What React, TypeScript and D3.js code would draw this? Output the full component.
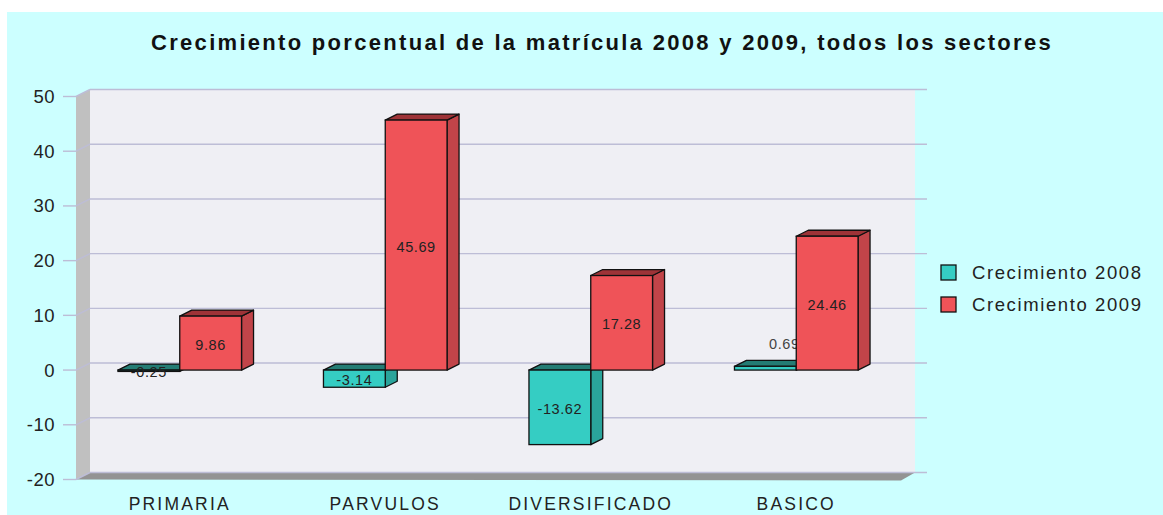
import React from "react";
import * as d3 from "d3";

const categories = ["PRIMARIA", "PARVULOS", "DIVERSIFICADO", "BASICO"];
const seriesNames = ["Crecimiento 2008", "Crecimiento 2009"];
const values2008 = [-0.25, -3.14, -13.62, 0.69];
const values2009 = [9.86, 45.69, 17.28, 24.46];
const yTicks = [-20, -10, 0, 10, 20, 30, 40, 50];
const title = "Crecimiento porcentual de la matrícula 2008 y 2009, todos los sectores";

const W = 1163;
const H = 515;
const FONT = "'Liberation Sans', Arial, sans-serif";

const palette = [
  { front: "#35cdc3", side: "#2aa49b", top: "#237c74" },
  { front: "#ef5358", side: "#c24449", top: "#9e3337" },
];

export default function App() {
  const y = d3.scaleLinear().domain([-20, 50]).range([479.5, 96.5]);
  const x = d3.scaleBand<string>().domain(categories).range([77, 899]);
  const xs = d3
    .scaleBand<string>()
    .domain(seriesNames)
    .range([0, x.bandwidth()])
    .paddingInner(0)
    .paddingOuter(0.663);

  const frontL = 76;
  const frontR = 901;
  const wdx = 14;
  const wdy = -7;
  const bdx = 12;
  const bdy = -6;
  const yTop = y(50);
  const yBot = y(-20);

  const allSeries = [values2008, values2009];

  const pts = (p: number[][]) => p.map((d) => d.join(",")).join(" ");

  const seriesGroups = allSeries.map((vals, si) => {
    const col = palette[si];
    const bars = categories.map((c, ci) => {
      const v = vals[ci];
      const x0 = (x(c) as number) + (xs(seriesNames[si]) as number);
      const w = xs.bandwidth();
      const t = y(Math.max(0, v));
      const b = y(Math.min(0, v));
      return (
        <g key={"b" + ci}>
          <polygon
            points={pts([[x0 + w, t], [x0 + w + bdx, t + bdy], [x0 + w + bdx, b + bdy], [x0 + w, b]])}
            fill={col.side}
            stroke="#111"
            strokeWidth={1.3}
            strokeLinejoin="round"
          />
          <polygon
            points={pts([[x0, t], [x0 + bdx, t + bdy], [x0 + w + bdx, t + bdy], [x0 + w, t]])}
            fill={col.top}
            stroke="#111"
            strokeWidth={1.3}
            strokeLinejoin="round"
          />
          <rect x={x0} y={t} width={w} height={Math.max(0.8, b - t)} fill={col.front} stroke="#111" strokeWidth={1.3} />
        </g>
      );
    });
    const labels = categories.map((c, ci) => {
      const v = vals[ci];
      const x0 = (x(c) as number) + (xs(seriesNames[si]) as number);
      const w = xs.bandwidth();
      const t = y(Math.max(0, v));
      const b = y(Math.min(0, v));
      const small = b - t < 12 && v > 0;
      const lx = small ? x0 + w / 2 + 19 : x0 + w / 2;
      const ly = small ? t - 22 : (t + b) / 2 + 1.5;
      return (
        <text
          key={"l" + ci}
          x={lx}
          y={ly}
          textAnchor="middle"
          dominantBaseline="central"
          fontFamily={FONT}
          fontSize={14.5}
          letterSpacing={0.6}
          fill={small ? "#444" : "#222"}
        >
          {v.toFixed(2)}
        </text>
      );
    });
    return (
      <g key={"s" + si}>
        {bars}
        {labels}
      </g>
    );
  });

  return (
    <svg width={W} height={H} style={{ position: "absolute", left: 0, top: 0 }}>
      <rect x={7} y={12} width={W - 7} height={H - 12} fill="#ccffff" />

      {/* left wall */}
      <polygon
        points={pts([[frontL, yTop], [frontL + wdx, yTop + wdy], [frontL + wdx, yBot + wdy], [frontL, yBot]])}
        fill="#c0c0c0"
      />
      {/* back wall */}
      <rect x={frontL + wdx} y={yTop + wdy} width={frontR - frontL} height={yBot - yTop} fill="#efeff4" />
      {/* floor */}
      <polygon
        points={pts([[frontL, yBot], [frontL + wdx, yBot + wdy], [frontR + wdx, yBot + wdy], [frontR, yBot + 1]])}
        fill="#939393"
      />

      {/* grid lines and ticks */}
      {yTicks.map((t) => {
        const yy = y(t);
        return (
          <g key={"g" + t} stroke="#bdbdd6" strokeWidth={1.4} fill="none">
            <line x1={63} x2={frontL} y1={yy} y2={yy} />
            <line x1={frontL} x2={frontL + wdx} y1={yy} y2={yy + wdy} />
            <line x1={frontL + wdx} x2={frontR + wdx + 12} y1={yy + wdy} y2={yy + wdy} />
          </g>
        );
      })}
      {yTicks.map((t) => (
        <text
          key={"t" + t}
          x={55}
          y={y(t)}
          textAnchor="end"
          dominantBaseline="central"
          fontFamily={FONT}
          fontSize={18.5}
          letterSpacing={0.5}
          fill="#222"
        >
          {t}
        </text>
      ))}

      {seriesGroups}

      {categories.map((c) => (
        <text
          key={"c" + c}
          x={(x(c) as number) + x.bandwidth() / 2}
          y={510}
          textAnchor="middle"
          fontFamily={FONT}
          fontSize={17.5}
          letterSpacing={2.2}
          fill="#222"
        >
          {c}
        </text>
      ))}

      {/* legend */}
      {seriesNames.map((s, i) => (
        <g key={"lg" + i}>
          <rect x={941} y={265 + i * 32} width={15} height={15} fill={palette[i].front} stroke="#111" strokeWidth={1.3} />
          <text x={972} y={279 + i * 32} fontFamily={FONT} fontSize={18.5} letterSpacing={1.6} fill="#222">
            {s}
          </text>
        </g>
      ))}

      <text
        x={602}
        y={50}
        textAnchor="middle"
        fontFamily={FONT}
        fontWeight="bold"
        fontSize={22}
        letterSpacing={2.3}
        fill="#111"
      >
        {title}
      </text>
    </svg>
  );
}
